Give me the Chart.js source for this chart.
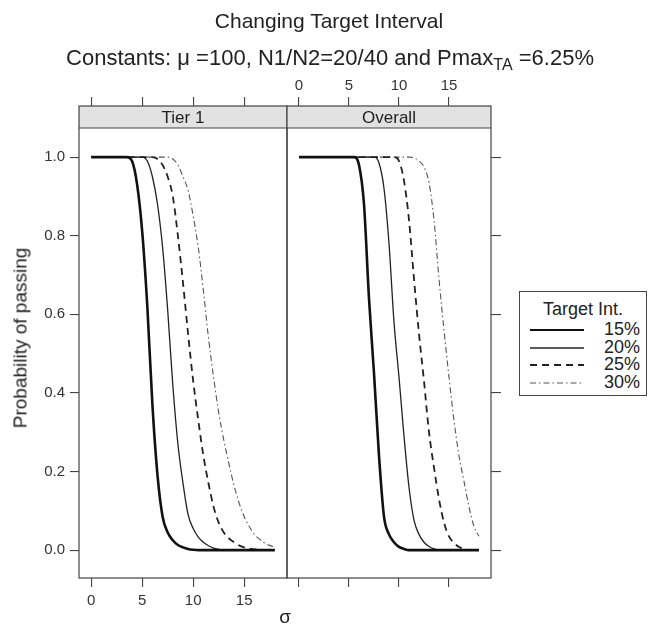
<!DOCTYPE html>
<html>
<head>
<meta charset="utf-8">
<script src="https://cdn.jsdelivr.net/npm/chart.js@4.4.1/dist/chart.umd.min.js"></script>
<style>
  html, body { margin: 0; padding: 0; background: #fff; }
  #wrap { position: relative; width: 655px; height: 625px; overflow: hidden;
          font-family: "Liberation Sans", Arial, Helvetica, sans-serif; color: #222; }
  canvas { position: absolute; left: 0; top: 0; }
  .txt { position: absolute; white-space: nowrap; line-height: 1; }
  .center { transform: translateX(-50%); }
  #ylab { transform: translate(-50%, -50%) rotate(-90deg); }
  #legend { position: absolute; left: 519px; top: 291px; width: 126px; height: 103px;
            border: 1px solid #444; background: #fff; }
  #legend .head { position: absolute; left: 0; width: 100%; top: 8px; text-align: center;
                  font-size: 18px; line-height: 18px; }
  #legend .row { position: absolute; left: 0; width: 100%; height: 18px; }
  #legend .row svg { position: absolute; left: 9px; top: 0; }
  #legend .row span { position: absolute; right: 6px; top: 0; font-size: 18px; line-height: 18px; }
</style>
</head>
<body>
<div id="wrap">
  <canvas id="tier1" width="655" height="625"></canvas>
  <canvas id="overall" width="655" height="625"></canvas>

  <div class="txt center" style="left:329px; top:10px; font-size:21px;">Changing Target Interval</div>
  <div class="txt center" style="left:330px; top:47px; font-size:22px;">Constants: &mu; =100, N1/N2=20/40 and Pmax<sub style="font-size:16px; vertical-align:-5px; line-height:0;">TA</sub> =6.25%</div>

  <div class="txt center" style="left:183px; top:109px; font-size:17px;" id="strip1"></div>
  <div class="txt center" style="left:389px; top:109px; font-size:17px;" id="strip2"></div>

  <div class="txt" id="ylab" style="left:20px; top:338px; font-size:19px;">Probability of passing</div>
  <div class="txt center" style="left:285px; top:607px; font-size:19px;">&sigma;</div>

  <div id="legend"></div>
</div>

<script>
// sigma grid shared by every curve (0 to 18 in steps of 0.5)
const sigma = [0, 0.5, 1, 1.5, 2, 2.5, 3, 3.5, 4, 4.5, 5, 5.5, 6, 6.5, 7, 7.5, 8, 8.5,
               9, 9.5, 10, 10.5, 11, 11.5, 12, 12.5, 13, 13.5, 14, 14.5, 15, 15.5, 16, 16.5,
               17, 17.5, 18];

const intervals = ['15%', '20%', '25%', '30%'];
const panels = ['Tier 1', 'Overall'];
const legendTitle = 'Target Int.';

// Probability of passing, Tier 1
const tier1_15 = [1, 1, 1, 1, 1, 1, 1, 1, 0.99, 0.93, 0.81, 0.62, 0.37, 0.19, 0.085, 0.045, 0.025, 0.013,
                  0.007, 0.003, 0.001, 0, 0, 0, 0, 0, 0, 0, 0, 0, 0, 0, 0, 0, 0, 0, 0];
const tier1_20 = [1, 1, 1, 1, 1, 1, 1, 1, 1, 1, 1, 0.99, 0.95, 0.88, 0.77, 0.61, 0.42, 0.27,
                  0.17, 0.09, 0.055, 0.033, 0.02, 0.011, 0.005, 0.002, 0, 0, 0, 0, 0, 0, 0, 0, 0, 0, 0];
const tier1_25 = [1, 1, 1, 1, 1, 1, 1, 1, 1, 1, 1, 1, 1, 0.995, 0.98, 0.95, 0.90, 0.80,
                  0.68, 0.55, 0.43, 0.33, 0.24, 0.17, 0.11, 0.07, 0.045, 0.03, 0.02, 0.012, 0.007, 0.004,
                  0.002, 0.001, 0, 0, 0];
const tier1_30 = [1, 1, 1, 1, 1, 1, 1, 1, 1, 1, 1, 1, 1, 1, 1, 1, 0.995, 0.98,
                  0.95, 0.915, 0.85, 0.77, 0.66, 0.54, 0.44, 0.35, 0.28, 0.22, 0.165, 0.12, 0.085, 0.06,
                  0.04, 0.028, 0.018, 0.012, 0.008];

// Probability of passing, overall
const overall_15 = [1, 1, 1, 1, 1, 1, 1, 1, 1, 1, 1, 1, 0.98, 0.88, 0.64, 0.45, 0.24, 0.085,
                    0.04, 0.02, 0.008, 0.003, 0, 0, 0, 0, 0, 0, 0, 0, 0, 0, 0, 0, 0, 0, 0];
const overall_20 = [1, 1, 1, 1, 1, 1, 1, 1, 1, 1, 1, 1, 1, 1, 1, 1, 0.985, 0.92,
                    0.78, 0.58, 0.44, 0.29, 0.16, 0.076, 0.04, 0.02, 0.009, 0.003, 0, 0, 0, 0, 0, 0, 0, 0, 0];
const overall_25 = [1, 1, 1, 1, 1, 1, 1, 1, 1, 1, 1, 1, 1, 1, 1, 1, 1, 1,
                    1, 1, 0.99, 0.94, 0.84, 0.69, 0.55, 0.43, 0.30, 0.21, 0.13, 0.07, 0.035, 0.018,
                    0.008, 0.003, 0, 0, 0];
const overall_30 = [1, 1, 1, 1, 1, 1, 1, 1, 1, 1, 1, 1, 1, 1, 1, 1, 1, 1,
                    1, 1, 1, 1, 1, 0.998, 0.99, 0.975, 0.935, 0.84, 0.69, 0.56, 0.44, 0.33,
                    0.24, 0.175, 0.11, 0.06, 0.035];

const sigmaTicks = [0, 5, 10, 15];
const probTicks = [0, 0.2, 0.4, 0.6, 0.8, 1.0];

// line styling per target interval
const lineStyles = [
  { color: '#111', width: 2.6, dash: [] },
  { color: '#222', width: 1.3, dash: [] },
  { color: '#222', width: 1.8, dash: [7, 5] },
  { color: '#555', width: 1.1, dash: [6, 3, 1.5, 3] }
];

const X_MIN = -1.2, X_MAX = 19.2;
const Y_MIN = -0.071, Y_MAX = 1.130;   // top 22px of the area hold the panel strip
const STRIP_H = 22;
const FRAME = '#444';

function makeDatasets(seriesList) {
  return seriesList.map((vals, i) => ({
    label: intervals[i],
    data: sigma.map((s, k) => ({ x: s, y: vals[k] })),
    showLine: true,
    pointRadius: 0,
    borderColor: lineStyles[i].color,
    borderWidth: lineStyles[i].width,
    borderDash: lineStyles[i].dash,
    cubicInterpolationMode: 'monotone',
    fill: false
  }));
}

// panel frame with its grey strip on top
const framePlugin = {
  id: 'panelFrame',
  beforeDatasetsDraw(chart) {
    const a = chart.chartArea, ctx = chart.ctx;
    ctx.save();
    ctx.fillStyle = '#e2e2e2';
    ctx.fillRect(a.left, a.top, a.right - a.left, STRIP_H);
    ctx.restore();
  },
  afterDatasetsDraw(chart) {
    const a = chart.chartArea, ctx = chart.ctx;
    ctx.save();
    ctx.strokeStyle = FRAME;
    ctx.lineWidth = 1.2;
    ctx.strokeRect(a.left, a.top, a.right - a.left, a.bottom - a.top);
    ctx.beginPath();
    ctx.moveTo(a.left, a.top + STRIP_H);
    ctx.lineTo(a.right, a.top + STRIP_H);
    ctx.stroke();
    ctx.restore();
  }
};

const setTicks = vals => scale => { scale.ticks = vals.map(v => ({ value: v })); };
const tickGrid = len => ({ drawOnChartArea: false, drawTicks: true, tickLength: len, color: FRAME, lineWidth: 1.1 });
const tickFont = { family: '"Liberation Sans", Arial, sans-serif', size: 15 };

function xAxis(position, showLabels, height) {
  return {
    type: 'linear', position, min: X_MIN, max: X_MAX,
    afterBuildTicks: setTicks(sigmaTicks),
    afterFit: s => { s.height = height; },
    border: { display: false },
    grid: tickGrid(9),
    ticks: { display: true, font: tickFont, color: '#333',
             padding: position === 'top' ? 2 : 5,
             maxRotation: 0, autoSkip: false,
             callback: v => showLabels ? String(v) : '' }
  };
}

function yAxis(position, showLabels, width) {
  return {
    type: 'linear', position, min: Y_MIN, max: Y_MAX,
    afterBuildTicks: setTicks(probTicks),
    afterFit: s => { s.width = width; },
    border: { display: false },
    grid: tickGrid(position === 'left' ? 9 : 10),
    ticks: { display: true, font: tickFont, color: '#333', padding: 5, autoSkip: false,
             callback: v => showLabels ? v.toFixed(1) : '' }
  };
}

const common = {
  responsive: false,
  animation: false,
  devicePixelRatio: 1,
  plugins: { legend: { display: false }, tooltip: { enabled: false } }
};

new Chart(document.getElementById('tier1'), {
  type: 'scatter',
  data: { datasets: makeDatasets([tier1_15, tier1_20, tier1_25, tier1_30]) },
  options: Object.assign({}, common, {
    layout: { padding: { left: 0, right: 368, top: 0, bottom: 0 } },
    scales: {
      x: xAxis('bottom', true, 47),
      xTop: xAxis('top', false, 106),
      y: yAxis('left', true, 79)
    }
  }),
  plugins: [framePlugin]
});

new Chart(document.getElementById('overall'), {
  type: 'scatter',
  data: { datasets: makeDatasets([overall_15, overall_20, overall_25, overall_30]) },
  options: Object.assign({}, common, {
    layout: { padding: { left: 287, right: 0, top: 0, bottom: 0 } },
    scales: {
      x: xAxis('bottom', false, 47),
      xTop: xAxis('top', true, 106),
      y: yAxis('right', false, 164)
    }
  }),
  plugins: [framePlugin]
});

// strip captions
document.getElementById('strip1').textContent = panels[0];
document.getElementById('strip2').textContent = panels[1];

// key for the target intervals
(function buildLegend() {
  const box = document.getElementById('legend');
  const head = document.createElement('div');
  head.className = 'head';
  head.textContent = legendTitle;
  box.appendChild(head);
  intervals.forEach((lab, i) => {
    const row = document.createElement('div');
    row.className = 'row';
    row.style.top = (28 + i * 17.7) + 'px';
    const st = lineStyles[i];
    const svgNS = 'http://www.w3.org/2000/svg';
    const svg = document.createElementNS(svgNS, 'svg');
    svg.setAttribute('width', '56');
    svg.setAttribute('height', '18');
    const ln = document.createElementNS(svgNS, 'line');
    ln.setAttribute('x1', '1'); ln.setAttribute('x2', '55');
    ln.setAttribute('y1', '10'); ln.setAttribute('y2', '10');
    ln.setAttribute('stroke', st.color);
    ln.setAttribute('stroke-width', Math.min(st.width, 2.2));
    if (st.dash.length) ln.setAttribute('stroke-dasharray', st.dash.join(' '));
    svg.appendChild(ln);
    row.appendChild(svg);
    const sp = document.createElement('span');
    sp.textContent = lab;
    row.appendChild(sp);
    box.appendChild(row);
  });
})();
</script>
</body>
</html>
